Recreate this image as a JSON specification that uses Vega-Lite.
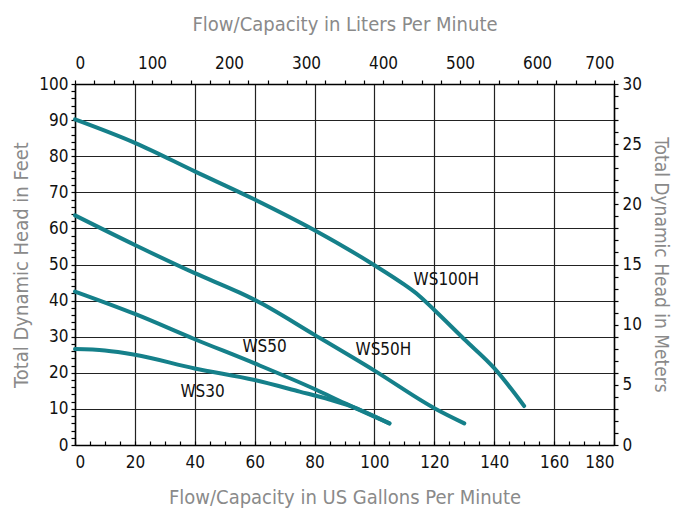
{
  "$schema": "https://vega.github.io/schema/vega-lite/v6.json",
  "width": 539,
  "height": 361,
  "autosize": "none",
  "padding": {"left": 75, "top": 84, "right": 59, "bottom": 67},
  "config": {
    "view": {"stroke": null},
    "font": "DejaVu Sans Condensed, sans-serif",
    "axis": {
      "labelFont": "DejaVu Sans Condensed, sans-serif",
      "labelFontSize": 17,
      "labelColor": "#111111",
      "titleFont": "DejaVu Sans Condensed, sans-serif",
      "titleFontSize": 20,
      "titleFontWeight": "normal",
      "titleColor": "#8a8a8a",
      "domainColor": "#000000",
      "domainWidth": 1.5,
      "tickColor": "#000000",
      "tickWidth": 1.2,
      "tickSize": 4,
      "gridColor": "#222222",
      "gridWidth": 1.2,
      "labelOverlap": false
    }
  },
  "datasets": {
    "curves": [
      {"model": "WS100H", "gpm": 0, "ft": 90.2},
      {"model": "WS100H", "gpm": 20, "ft": 83.7},
      {"model": "WS100H", "gpm": 40, "ft": 75.8},
      {"model": "WS100H", "gpm": 60, "ft": 68.0},
      {"model": "WS100H", "gpm": 80, "ft": 59.5},
      {"model": "WS100H", "gpm": 100, "ft": 49.8},
      {"model": "WS100H", "gpm": 110, "ft": 44.4},
      {"model": "WS100H", "gpm": 115, "ft": 41.3},
      {"model": "WS100H", "gpm": 120, "ft": 37.4},
      {"model": "WS100H", "gpm": 130, "ft": 29.3},
      {"model": "WS100H", "gpm": 140, "ft": 21.3},
      {"model": "WS100H", "gpm": 150, "ft": 10.8},
      {"model": "WS50H", "gpm": 0, "ft": 63.6},
      {"model": "WS50H", "gpm": 20, "ft": 55.4},
      {"model": "WS50H", "gpm": 40, "ft": 47.6},
      {"model": "WS50H", "gpm": 55, "ft": 42.2},
      {"model": "WS50H", "gpm": 60, "ft": 40.2},
      {"model": "WS50H", "gpm": 80, "ft": 30.5},
      {"model": "WS50H", "gpm": 100, "ft": 20.6},
      {"model": "WS50H", "gpm": 120, "ft": 10.2},
      {"model": "WS50H", "gpm": 130, "ft": 6.0},
      {"model": "WS50", "gpm": 0, "ft": 42.5},
      {"model": "WS50", "gpm": 20, "ft": 36.3},
      {"model": "WS50", "gpm": 40, "ft": 29.3},
      {"model": "WS50", "gpm": 60, "ft": 22.6},
      {"model": "WS50", "gpm": 80, "ft": 15.5},
      {"model": "WS50", "gpm": 90, "ft": 11.6},
      {"model": "WS50", "gpm": 105, "ft": 6.0},
      {"model": "WS30", "gpm": 0, "ft": 26.6},
      {"model": "WS30", "gpm": 10, "ft": 26.2},
      {"model": "WS30", "gpm": 20, "ft": 25.0},
      {"model": "WS30", "gpm": 40, "ft": 21.2},
      {"model": "WS30", "gpm": 60, "ft": 18.0},
      {"model": "WS30", "gpm": 75, "ft": 14.8},
      {"model": "WS30", "gpm": 85, "ft": 12.6},
      {"model": "WS30", "gpm": 92, "ft": 10.8},
      {"model": "WS30", "gpm": 105, "ft": 6.0}
    ],
    "labels": [
      {"model": "WS100H", "gpm": 124, "ft": 45.7},
      {"model": "WS50H", "gpm": 103, "ft": 26.3},
      {"model": "WS50", "gpm": 63.3, "ft": 27.1},
      {"model": "WS30", "gpm": 42.6, "ft": 14.7}
    ],
    "metric": [
      {"lpm": 0, "m": 0},
      {"lpm": 700, "m": 30}
    ]
  },
  "layer": [
    {
      "data": {"name": "curves"},
      "mark": {"type": "line", "color": "#15808a", "strokeWidth": 4, "interpolate": "monotone", "strokeCap": "round"},
      "encoding": {
        "x": {
          "field": "gpm", "type": "quantitative",
          "scale": {"domain": [0, 180], "nice": false, "zero": false},
          "axis": {
            "orient": "bottom",
            "title": "Flow/Capacity in US Gallons Per Minute",
            "values": [0,20,40,60,80,100,120,140,160,180],
            "ticks": false,
            "labelPadding": 9,
            "titlePadding": 17
          }
        },
        "y": {
          "field": "ft", "type": "quantitative",
          "scale": {"domain": [0, 100], "nice": false, "zero": false},
          "axis": {
            "orient": "left",
            "title": "Total Dynamic Head in Feet",
            "values": [0,2,4,6,8,10,12,14,16,18,20,22,24,26,28,30,32,34,36,38,40,42,44,46,48,50,52,54,56,58,60,62,64,66,68,70,72,74,76,78,80,82,84,86,88,90,92,94,96,98,100],
            "labelExpr": "datum.value % 10 == 0 ? datum.label : ''",
            "gridOpacity": {"condition": {"test": "datum.value % 10 == 0", "value": 1}, "value": 0},
            "tickSize": 4,
            "labelPadding": 3,
            "titlePadding": 7
          }
        },
        "detail": {"field": "model"}
      }
    },
    {
      "data": {"name": "labels"},
      "mark": {"type": "text", "font": "DejaVu Sans Condensed, sans-serif", "fontSize": 17, "color": "#111111", "align": "center", "baseline": "middle"},
      "encoding": {
        "x": {"field": "gpm", "type": "quantitative", "scale": {"domain": [0, 180], "nice": false, "zero": false}, "axis": null},
        "y": {"field": "ft", "type": "quantitative", "scale": {"domain": [0, 100], "nice": false, "zero": false}, "axis": null},
        "text": {"field": "model"}
      }
    },
    {
      "data": {"name": "curves"},
      "mark": {"type": "point", "opacity": 0},
      "encoding": {
        "x": {
          "field": "gpm", "type": "quantitative",
          "scale": {"domain": [0, 180], "nice": false, "zero": false},
          "axis": {
            "orient": "top",
            "offset": -361,
            "title": null,
            "labels": false,
            "domain": false,
            "grid": false,
            "values": [0,5,10,15,20,25,30,35,40,45,50,55,60,65,70,75,80,85,90,95,100,105,110,115,120,125,130,135,140,145,150,155,160,165,170,175,180],
            "tickSize": 4
          }
        }
      }
    },
    {
      "data": {"name": "metric"},
      "mark": {"type": "point", "opacity": 0},
      "encoding": {
        "x": {
          "field": "lpm", "type": "quantitative",
          "scale": {"domain": [0, 700], "nice": false, "zero": false},
          "axis": {
            "orient": "top",
            "title": "Flow/Capacity in Liters Per Minute",
            "values": [0,25,50,75,100,125,150,175,200,225,250,275,300,325,350,375,400,425,450,475,500,525,550,575,600,625,650,675,700],
            "labelExpr": "datum.value % 100 == 0 ? datum.label : ''",
            "grid": false,
            "tickSize": 4,
            "labelPadding": 8,
            "titlePadding": 20
          }
        },
        "y": {
          "field": "m", "type": "quantitative",
          "scale": {"domain": [0, 30], "nice": false, "zero": false},
          "axis": {
            "orient": "right",
            "title": "Total Dynamic Head in Meters",
            "titleFontSize": 19,
            "values": [0,1,2,3,4,5,6,7,8,9,10,11,12,13,14,15,16,17,18,19,20,21,22,23,24,25,26,27,28,29,30],
            "labelExpr": "datum.value % 5 == 0 ? datum.label : ''",
            "grid": false,
            "tickSize": 4,
            "labelPadding": 4,
            "titlePadding": 9
          }
        }
      }
    }
  ],
  "resolve": {
    "scale": {"x": "independent", "y": "independent"},
    "axis": {"x": "independent", "y": "independent"}
  }
}
